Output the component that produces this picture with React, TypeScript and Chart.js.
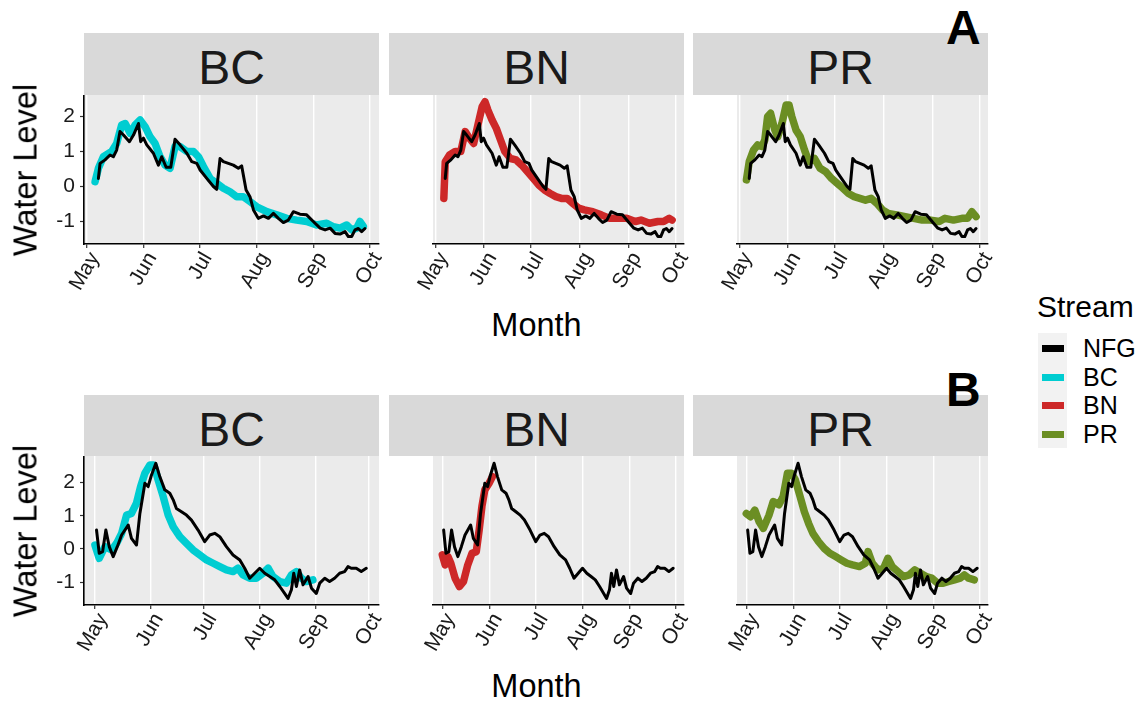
import React, { useEffect, useRef } from 'react';
import { Chart, registerables } from 'chart.js';

Chart.register(...registerables);

const FONT = '"Liberation Sans", Arial, Helvetica, sans-serif';
Chart.defaults.font.family = FONT;
Chart.defaults.font.size = 21;
Chart.defaults.color = '#1A1A1A';

// ---- axis tick definitions (days since May 1) ----
const MONTH_TICKS = [0, 31, 61, 92, 123, 153];
const MONTH_LABELS = ['May', 'Jun', 'Jul', 'Aug', 'Sep', 'Oct'];
const Y_TICKS = [-1, 0, 1, 2];
const STREAMS = ['BC', 'BN', 'PR'];

// ---- Row A data: [day since May 1, water level] ----
const NFG_A: [number, number][] = [
  [6.3, 0.23], [7.2, 0.66], [9.9, 0.76], [12.6, 0.9], [14.4, 0.85], [16.2, 1.04], [18, 1.57],
  [19.9, 1.47], [23.1, 1.28], [25.3, 1.47], [28, 1.8], [29.2, 1.28], [30.7, 1.38], [32.5, 1.19],
  [36.1, 0.95], [38.8, 0.61], [40.6, 0.85], [43, 0.55], [45.5, 0.55], [47.8, 1.35], [50.5, 1.19],
  [54.2, 0.95], [56.9, 0.71], [59.6, 0.66], [61.4, 0.47], [65, 0.23], [68.6, 0.0], [70.4, -0.08],
  [72.2, 0.8], [74, 0.71], [79.4, 0.61], [82.1, 0.52], [83.9, 0.59], [86.3, -0.1], [88.4, -0.29],
  [90.3, -0.67], [92.9, -0.91], [95.7, -0.84], [98.4, -0.91], [101.1, -0.77], [103.8, -0.91],
  [106.5, -1.03], [109.2, -0.96], [111.9, -0.72], [115.5, -0.79], [119.1, -0.81], [122.7, -1.0],
  [126.4, -1.19], [129.1, -1.24], [131.8, -1.19], [134.5, -1.34], [137.2, -1.36], [139.9, -1.29],
  [141.7, -1.43], [143.5, -1.43], [145.3, -1.24], [147.1, -1.2], [148.9, -1.29], [150.7, -1.2],
];
const BC_A: [number, number][] = [
  [4.5, 0.14], [6.3, 0.52], [9, 0.85], [13.5, 1.0], [16.2, 1.23], [18.9, 1.76], [20.8, 1.8],
  [23.5, 1.52], [26.2, 1.76], [28.9, 1.9], [31.6, 1.71], [34.3, 1.42], [37, 1.23], [39.7, 0.85],
  [42.4, 0.61], [45.1, 0.52], [47.8, 1.14], [50.5, 1.14], [54.2, 1.0], [57.8, 1.0], [60.5, 0.85],
  [63.2, 0.57], [66.8, 0.23], [70.4, 0.09], [74, -0.05], [77.6, -0.15], [81.2, -0.29], [84.8, -0.29],
  [88.4, -0.43], [92.1, -0.58], [97.5, -0.72], [102.9, -0.81], [108.3, -0.91], [113.7, -0.96],
  [119.1, -1.0], [124.5, -1.1], [130, -1.05], [133.6, -1.15], [137.2, -1.19], [140.8, -1.1],
  [143.5, -1.24], [146.2, -1.19], [148, -1.0], [149.8, -1.14],
];
const BN_A: [number, number][] = [
  [5.4, -0.34], [6.3, 0.71], [9, 0.9], [12.6, 1.0], [16.2, 1.0], [19, 1.57], [21.7, 1.38],
  [24.4, 1.23], [27.1, 1.76], [29.8, 2.28], [31.6, 2.42], [33.4, 2.19], [36.1, 1.9], [38.8, 1.66],
  [41.5, 1.33], [44.2, 1.0], [47.8, 0.8], [51.4, 0.76], [55, 0.61], [58.7, 0.42], [62.3, 0.23],
  [65.9, 0.04], [69.5, -0.1], [73.1, -0.2], [76.7, -0.29], [80.3, -0.34], [83.9, -0.34], [87.5, -0.48],
  [91.2, -0.62], [94.8, -0.67], [100.2, -0.72], [105.6, -0.81], [111, -0.91], [116.4, -0.91],
  [121.8, -0.91], [127.3, -1.0], [130.9, -0.96], [136.3, -1.05], [141.7, -1.0], [145.3, -1.0],
  [148.9, -0.91], [150.7, -0.96],
];
const PR_A: [number, number][] = [
  [4.5, 0.19], [6.3, 0.71], [9, 1.04], [11.7, 1.19], [14.4, 1.14], [16.2, 1.33], [18, 2.0],
  [19.9, 2.09], [22.6, 1.61], [24.4, 1.42], [27.1, 1.8], [29.8, 2.33], [31.6, 2.33], [33.4, 2.0],
  [36.1, 1.61], [38.8, 1.42], [41.5, 1.04], [44.2, 0.71], [47.8, 0.8], [51.4, 0.52], [55, 0.42],
  [58.7, 0.23], [62.3, 0.09], [65.9, -0.05], [69.5, -0.2], [73.1, -0.29], [76.7, -0.34], [80.3, -0.39],
  [83.9, -0.34], [87.5, -0.48], [91.2, -0.67], [94.8, -0.77], [100.2, -0.81], [105.6, -0.86],
  [111, -0.91], [116.4, -0.96], [121.8, -0.96], [127.3, -1.0], [130.9, -0.91], [136.3, -0.96],
  [141.7, -0.91], [145.3, -0.91], [148, -0.72], [150.7, -0.86],
];

// ---- Row B data ----
const NFG_B: [number, number][] = [
  [0.9, 0.57], [2.4, -0.13], [4.3, -0.08], [6.1, 0.57], [8, 0.07], [10.2, -0.23], [12.5, 0.07],
  [14.9, 0.42], [18.6, 0.72], [20.4, 0.32], [23.2, 0.12], [25.1, 1.07], [27.9, 1.98], [29.7, 1.88],
  [31.6, 2.23], [34, 2.58], [36.2, 2.18], [39, 1.78], [41.8, 1.68], [43.7, 1.48], [45.5, 1.22],
  [48.3, 1.12], [51.1, 1.02], [53.9, 0.87], [57.6, 0.57], [61.3, 0.22], [64.1, 0.42], [66.9, 0.47],
  [69.7, 0.37], [73.4, 0.07], [77.1, -0.18], [80.9, -0.33], [83.6, -0.58], [86.4, -0.88],
  [89.2, -0.73], [92, -0.58], [94.8, -0.73], [97.6, -0.83], [100.4, -0.93], [103.2, -1.13],
  [105.9, -1.34], [107.8, -1.49], [109.7, -1.23], [111, -0.73], [112.5, -1.13], [114.3, -0.63],
  [116.2, -1.08], [119, -0.83], [120.9, -1.18], [123.6, -1.34], [125.5, -1.03], [128.3, -0.88],
  [131, -0.98], [133.8, -0.88], [136.6, -0.73], [139.4, -0.68], [141.3, -0.53], [143.1, -0.58],
  [145.9, -0.58], [148.7, -0.68], [151.5, -0.58],
];
const BC_B: [number, number][] = [
  [0, 0.12], [2.4, -0.28], [5.6, 0.07], [9.3, -0.03], [12.1, 0.17], [14.9, 0.47], [17.7, 1.02],
  [20.4, 1.07], [23.2, 1.38], [25.5, 1.88], [27.9, 2.28], [30.7, 2.53], [32.9, 2.53], [35.3, 2.08],
  [38.1, 1.58], [40.9, 1.02], [43.7, 0.67], [47.4, 0.37], [51.1, 0.17], [54.8, -0.03], [58.6, -0.18],
  [62.3, -0.33], [66, -0.43], [69.7, -0.53], [73.4, -0.63], [77.1, -0.68], [79.9, -0.58],
  [82.7, -0.78], [86.4, -0.88], [90.1, -0.88], [93.9, -0.73], [96.7, -0.58], [99.4, -0.83],
  [103.2, -0.98], [106.9, -1.03], [109.7, -0.78], [112.5, -0.68], [115.2, -0.88], [118, -0.98],
  [121.7, -0.93],
];
const BN_B: [number, number][] = [
  [0, -0.18], [1.9, -0.48], [3.7, -0.23], [5.6, -0.43], [8.4, -0.88], [11.2, -1.13], [13.9, -0.98],
  [16.7, -0.48], [19.5, -0.13], [22.3, -0.08], [24.2, 0.57], [26, 1.28], [27.9, 1.78], [30.7, 1.98],
  [32.9, 2.18],
];
const PR_B: [number, number][] = [
  [0, 1.07], [2.8, 0.97], [5.6, 1.17], [8.4, 0.82], [11.2, 0.62], [14.9, 1.02], [17.7, 1.43],
  [21.4, 1.33], [24.2, 1.58], [27, 2.28], [29.7, 2.28], [32.2, 2.08], [35.3, 1.58], [38.1, 1.12],
  [40.9, 0.77], [43.7, 0.47], [47.4, 0.22], [51.1, 0.02], [54.8, -0.13], [58.6, -0.23], [62.3, -0.33],
  [66, -0.43], [69.7, -0.48], [74.3, -0.53], [78.1, -0.43], [79.9, -0.08], [82.7, -0.43],
  [86.4, -0.63], [90.1, -0.58], [92.9, -0.28], [95.7, -0.53], [99.4, -0.68], [103.2, -0.83],
  [106.9, -0.78], [110.6, -0.63], [114.3, -0.73], [118, -0.83], [121.7, -0.88], [125.5, -1.03],
  [129.2, -1.03], [132.9, -0.98], [136.6, -0.93], [140.4, -0.88], [143.1, -0.78], [145.9, -0.88],
  [149.6, -0.93],
];

const COLORS: Record<string, string> = {
  NFG: '#000000',
  BC: '#00CDD1',
  BN: '#CD2828',
  PR: '#6B8E23',
};

// ---- layout ----
const PANEL_LEFTS = [84, 389, 693];
const PANEL_W = 295;
const PLOT_H = 149;
const YW = 44;
const XH = 60;
const LPAD = 36;
const RPAD = 26;
const TICK_SIZE = 21;

const ROWS = [
  {
    plotTop: 95, stripTop: 33, stripH: 62, stripBase: 85, monthBase: 337, label: 'A', labelBase: 45,
    xMin: -1.5, xMax: 158.3, yMin: -1.643, yMax: 2.614,
    nfg: NFG_A, series: [BC_A, BN_A, PR_A],
  },
  {
    plotTop: 456, stripTop: 395, stripH: 61, stripBase: 447, monthBase: 698, label: 'B', labelBase: 407,
    xMin: -6.1, xMax: 158.6, yMin: -1.687, yMax: 2.80,
    nfg: NFG_B, series: [BC_B, BN_B, PR_B],
  },
];

const bgPlugin = {
  id: 'panelBg',
  beforeDraw(chart: any) {
    const { ctx, chartArea } = chart;
    ctx.save();
    ctx.fillStyle = '#EBEBEB';
    ctx.fillRect(chartArea.left, chartArea.top, chartArea.right - chartArea.left, chartArea.bottom - chartArea.top);
    ctx.restore();
  },
};

function Panel({ row, col }: { row: number; col: number }) {
  const ref = useRef<HTMLCanvasElement>(null);
  const cfg = ROWS[row];
  const first = col === 0;
  const lw = first ? YW : LPAD;
  const left = PANEL_LEFTS[col] - lw;
  const width = lw + PANEL_W + RPAD;
  const height = PLOT_H + XH;

  useEffect(() => {
    if (!ref.current) return;
    const name = STREAMS[col];
    const toXY = (arr: [number, number][]) => arr.map(([x, y]) => ({ x, y }));
    const datasets: any[] = [
      { label: 'NFG', data: toXY(cfg.nfg), borderColor: COLORS.NFG, borderWidth: 3, order: 0 },
      { label: name, data: toXY(cfg.series[col]), borderColor: COLORS[name], borderWidth: 7.5, order: 1 },
    ];
    const chart = new Chart(ref.current, {
      type: 'line',
      data: { datasets },
      plugins: [bgPlugin],
      options: {
        responsive: false,
        animation: false,
        maintainAspectRatio: false,
        font: { family: FONT, size: TICK_SIZE },
        layout: { padding: { left: first ? 0 : LPAD, right: RPAD, top: 0, bottom: 0 } },
        plugins: { legend: { display: false }, tooltip: { enabled: false } },
        elements: {
          point: { radius: 0 },
          line: { tension: 0, borderJoinStyle: 'round', borderCapStyle: 'round', fill: false },
        },
        scales: {
          x: {
            type: 'linear',
            min: cfg.xMin,
            max: cfg.xMax,
            afterBuildTicks: (s: any) => { s.ticks = MONTH_TICKS.map((v) => ({ value: v })); },
            afterFit: (s: any) => { s.height = XH; s.paddingLeft = 0; s.paddingRight = 0; },
            ticks: {
              autoSkip: false,
              maxRotation: 60,
              minRotation: 60,
              padding: 0,
              labelOffset: 8,
              color: '#1A1A1A',
              font: { family: FONT, size: TICK_SIZE },
              callback: (_v: any, i: number) => MONTH_LABELS[i],
            },
            grid: { color: '#FFFFFF', lineWidth: 1.4, drawTicks: true, tickLength: 4, tickColor: '#333333', tickWidth: 1.2 },
            border: { display: true, color: '#000000', width: 1.6 },
          },
          y: {
            display: first,
            min: cfg.yMin,
            max: cfg.yMax,
            afterBuildTicks: (s: any) => { s.ticks = Y_TICKS.map((v) => ({ value: v })); },
            afterFit: (s: any) => { s.width = YW; s.paddingTop = 0; s.paddingBottom = 0; },
            ticks: { padding: 5, color: '#1A1A1A', font: { family: FONT, size: TICK_SIZE } },
            grid: { drawOnChartArea: false, drawTicks: true, tickLength: 4, tickColor: '#333333', tickWidth: 1.2 },
            border: { display: true, color: '#000000', width: 1.6 },
          },
        },
      } as any,
    });
    return () => chart.destroy();
  }, []);

  return (
    <canvas
      ref={ref}
      width={width}
      height={height}
      style={{ position: 'absolute', left, top: cfg.plotTop, width, height, display: 'block' }}
    />
  );
}

function Txt({ x, base, size, children, bold, center }: any) {
  return (
    <div
      style={{
        position: 'absolute',
        left: x,
        top: base - 0.8465 * size,
        fontSize: size,
        lineHeight: `${size}px`,
        whiteSpace: 'nowrap',
        fontWeight: bold ? 'bold' : 'normal',
        color: '#000',
        transform: center ? 'translateX(-50%)' : undefined,
      }}
    >
      {children}
    </div>
  );
}

export default function App() {
  const legendItems = ['NFG', 'BC', 'BN', 'PR'];
  const legendY = [348, 377, 405.5, 434];
  return (
    <div
      style={{
        position: 'absolute', left: 0, top: 0, width: 1146, height: 704,
        background: '#FFFFFF', fontFamily: FONT, overflow: 'hidden',
      }}
    >
      {ROWS.map((r, ri) => (
        <React.Fragment key={ri}>
          {PANEL_LEFTS.map((pl, ci) => (
            <div
              key={'s' + ci}
              style={{ position: 'absolute', left: pl, top: r.stripTop, width: PANEL_W, height: r.stripH, background: '#D9D9D9' }}
            />
          ))}
          {PANEL_LEFTS.map((pl, ci) => (
            <Txt key={'t' + ci} x={pl + PANEL_W / 2} base={r.stripBase} size={48} center>
              <span style={{ color: '#1A1A1A' }}>{STREAMS[ci]}</span>
            </Txt>
          ))}
          {PANEL_LEFTS.map((_pl, ci) => (
            <Panel key={'p' + ci} row={ri} col={ci} />
          ))}
          <div
            style={{
              position: 'absolute', left: 26, top: r.plotTop + PLOT_H / 2,
              transform: 'translate(-50%, -50%) rotate(-90deg)', fontSize: 32.5, lineHeight: '33px', whiteSpace: 'nowrap',
            }}
          >
            Water Level
          </div>
          <Txt x={536.5} base={r.monthBase} size={32.5} center>Month</Txt>
          <Txt x={946} base={r.labelBase} size={48} bold>{r.label}</Txt>
        </React.Fragment>
      ))}

      <Txt x={1037} base={317} size={30}>Stream</Txt>
      <div style={{ position: 'absolute', left: 1038, top: 333, width: 29, height: 115, background: '#F2F2F2' }} />
      {legendItems.map((k, i) => (
        <React.Fragment key={k}>
          <div
            style={{
              position: 'absolute', left: 1042, top: legendY[i] - 3.5, width: 22, height: 7, background: COLORS[k],
            }}
          />
          <Txt x={1083} base={legendY[i] + 9} size={25}>{k}</Txt>
        </React.Fragment>
      ))}
    </div>
  );
}
